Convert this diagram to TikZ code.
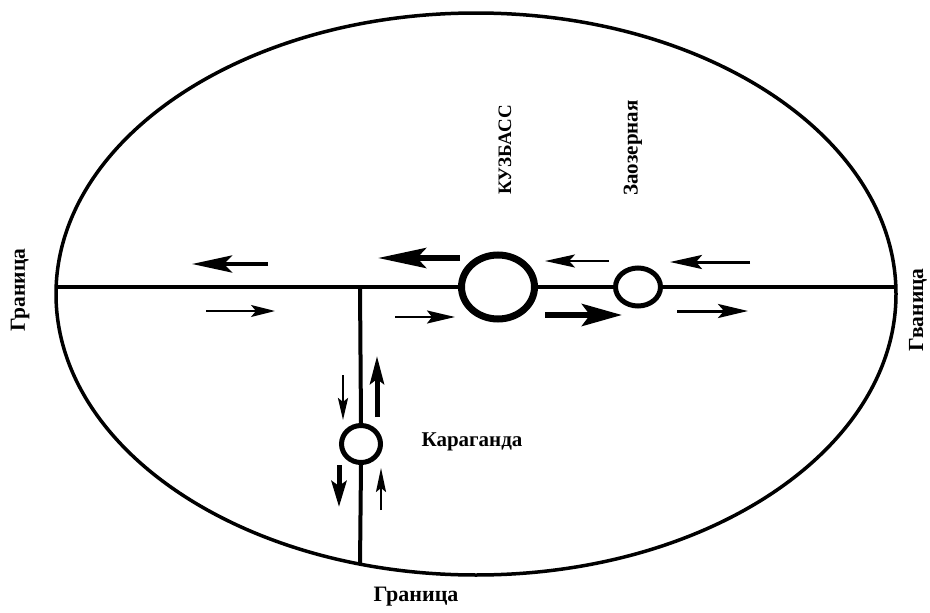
\documentclass[tikz,border=0pt]{standalone}
\usepackage{fontspec}
\setmainfont{Liberation Serif}
\usetikzlibrary{arrows.meta,shapes.geometric}
\tikzset{
  fl/.style n args={4}{line width=#1, -{Stealth[length=#2, width=#3, inset=#4]}},
  rim/.style={draw, line width=3.5pt, ellipse, inner sep=0pt},
  road/.style={line width=4pt},
  stn/.style={draw, ellipse, fill=white, inner sep=0pt},
  lbl/.style={inner sep=0pt},
}
\begin{document}
\begin{tikzpicture}[x=1pt,y=-1pt]
\useasboundingbox (0,0) rectangle (930,613);
% border ellipse
\node[rim, minimum width=840pt, minimum height=562pt] (E) at (476,294) {};
% stations
\node[stn, line width=7pt, minimum width=73pt, minimum height=64pt] (K) at (498,287) {};
\node[stn, line width=5pt, minimum width=45pt, minimum height=38pt] (Z) at (638,287) {};
\node[stn, line width=5pt, minimum width=39pt, minimum height=37pt] (G) at (361,444) {};
\coordinate (L) at (56,287);
\coordinate (R) at (896,287);
\coordinate (J) at (360,287);
\coordinate (B) at (360,565);
% roads
\draw[road] (L) -- (K.west);
\draw[road] (K.east) -- (Z.west);
\draw[road] (Z.east) -- (R);
\draw[road] (J) -- (G.north);
\draw[road] (G.south) -- (B);
% flow arrows (horizontal)
\coordinate (a1s) at (268,264); \coordinate (a1e) at (192,264);
\coordinate (a2s) at (206,311); \coordinate (a2e) at (275,311);
\coordinate (a3s) at (460,258); \coordinate (a3e) at (378,258);
\coordinate (a4s) at (395,317); \coordinate (a4e) at (455,317);
\coordinate (a5s) at (609,261); \coordinate (a5e) at (545,261);
\coordinate (a6s) at (545,315); \coordinate (a6e) at (622,315);
\coordinate (a7s) at (750,262); \coordinate (a7e) at (670,262);
\coordinate (a8s) at (677,311); \coordinate (a8e) at (748,311);
\draw[fl={4.5pt}{40pt}{17pt}{8pt}] (a1s) -- (a1e);
\draw[fl={2pt}{24pt}{12pt}{5pt}] (a2s) -- (a2e);
\draw[fl={6pt}{48pt}{20pt}{9pt}] (a3s) -- (a3e);
\draw[fl={2pt}{28pt}{13pt}{5pt}] (a4s) -- (a4e);
\draw[fl={2.5pt}{30pt}{13pt}{6pt}] (a5s) -- (a5e);
\draw[fl={6pt}{40pt}{22pt}{8pt}] (a6s) -- (a6e);
\draw[fl={3pt}{32pt}{14pt}{6pt}] (a7s) -- (a7e);
\draw[fl={3pt}{30pt}{14pt}{6pt}] (a8s) -- (a8e);
% flow arrows (vertical)
\coordinate (v1s) at (343,375); \coordinate (v1e) at (343,420);
\coordinate (v2s) at (377,417); \coordinate (v2e) at (377,356);
\coordinate (v3s) at (339,465); \coordinate (v3e) at (339,507);
\coordinate (v4s) at (381,510); \coordinate (v4e) at (381,468);
\draw[fl={2.5pt}{22pt}{10pt}{4pt}] (v1s) -- (v1e);
\draw[fl={5pt}{28pt}{14pt}{5pt}] (v2s) -- (v2e);
\draw[fl={5pt}{26pt}{15pt}{5pt}] (v3s) -- (v3e);
\draw[fl={2pt}{24pt}{10pt}{4pt}] (v4s) -- (v4e);
% labels
\node[lbl, rotate=90, font=\bfseries\fontsize{19}{19}\selectfont] (tK) at (505,150) {КУЗБАСС};
\node[lbl, rotate=90, font=\bfseries\fontsize{21}{21}\selectfont] (tZ) at (633,148) {Заозерная};
\node[lbl, font=\bfseries\fontsize{21}{21}\selectfont] (tG) at (472,442) {Караганда};
\node[lbl, font=\bfseries\fontsize{22}{22}\selectfont] (tB) at (416,597) {Граница};
\node[lbl, rotate=90, font=\bfseries\fontsize{21.5}{21.5}\selectfont] (tL) at (20,290) {Граница};
\node[lbl, rotate=90, font=\bfseries\fontsize{21.5}{21.5}\selectfont] (tR) at (918,310) {Гваница};
\end{tikzpicture}
\end{document}
